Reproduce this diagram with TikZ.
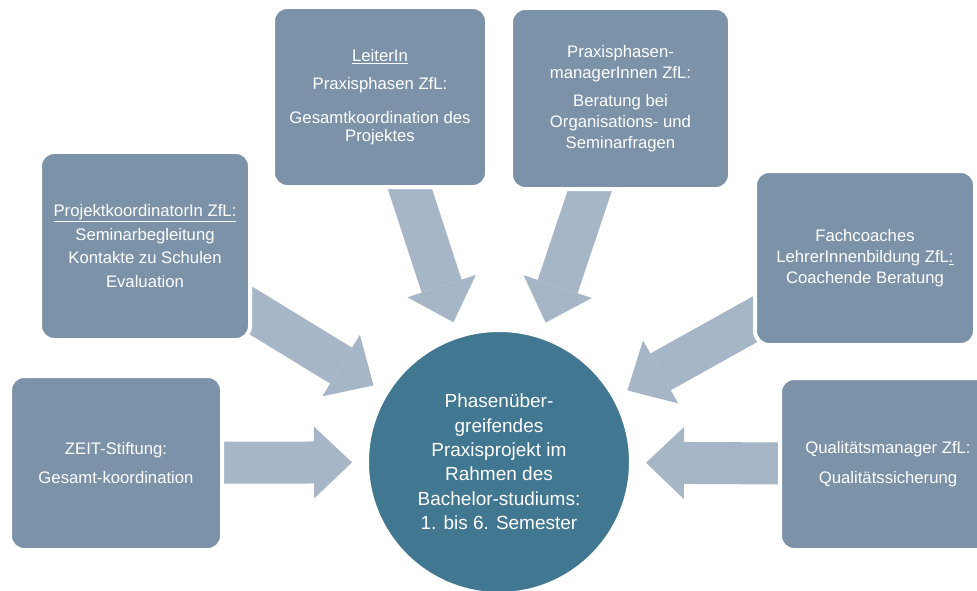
\documentclass[tikz,border=0pt]{standalone}
\usepackage{fontspec}
\setmainfont{Liberation Sans}
\usepackage{tikz}
\usetikzlibrary{arrows.meta, backgrounds}
\definecolor{boxblue}{RGB}{124,146,169}
\definecolor{arrowblue}{RGB}{166,182,199}
\definecolor{coreblue}{RGB}{66,119,145}
\tikzset{
  role/.style={rectangle, draw=white, fill=boxblue, line width=4pt,
    rounded corners=14pt, text=white, align=center, inner sep=0pt,
    outer sep=0pt, font=\fontsize{16.7}{21}\selectfont},
  core/.style={circle, draw=white, fill=coreblue, line width=2pt,
    minimum size=262pt, text=white, align=center, inner sep=0pt,
    outer sep=0pt, font=\fontsize{19}{24.4}\selectfont},
  bigarrow/.style={draw=arrowblue, line width=42pt,
    -{Triangle[length=38pt, width=72pt, line width=0pt]},
    shorten <=-20pt, shorten >=16pt}
}

\begin{document}
\begin{tikzpicture}[x=1pt, y=-1pt]
  \useasboundingbox (0,0) rectangle (977,591);
  % centre
  \node[core] (projekt) at (499,462)
    {Phasenüber-\\greifendes\\Praxisprojekt im\\Rahmen des\\Bachelor-studiums:\\1. bis 6. Semester};
  % roles around the centre
  \node[role, minimum width=210pt, minimum height=188pt,
        font=\fontsize{16.7}{23.7}\selectfont] (koord) at (145,246)
    {\underline{ProjektkoordinatorIn ZfL:}\\Seminarbegleitung\\Kontakte zu Schulen\\Evaluation};
  \node[role, minimum width=214pt, minimum height=180pt,
        font=\fontsize{16.7}{18}\selectfont] (leiter) at (380,97)
    {\underline{LeiterIn}\\[10pt]Praxisphasen ZfL:\\[16pt]Gesamtkoordination des\\Projektes};
  \node[role, minimum width=219pt, minimum height=181pt] (manager) at (620.5,98.5)
    {Praxisphasen-\\managerInnen ZfL:\\[7pt]Beratung bei\\Organisations- und\\Seminarfragen};
  \node[role, minimum width=220pt, minimum height=174pt] (coaches) at (865,258)
    {Fachcoaches\\LehrerInnenbildung ZfL\underline{:}\\Coachende Beratung};
  \node[role, minimum width=216pt, minimum height=172pt] (qualitaet) at (888,464)
    {Qualitätsmanager ZfL:\\[9pt]Qualitätssicherung};
  \node[role, minimum width=212pt, minimum height=174pt] (zeit) at (116,463)
    {ZEIT-Stiftung:\\[8pt]Gesamt-koordination};
  % block arrows behind the boxes
  \begin{scope}[on background layer]
    \fill[white] (0,0) rectangle (977,591);
    \draw[bigarrow] (zeit) -- (projekt);
    \draw[bigarrow] (koord) -- (projekt);
    \draw[bigarrow] (leiter) -- (projekt);
    \draw[bigarrow] (manager) -- (projekt);
    \draw[bigarrow] (coaches) -- (projekt);
    \draw[bigarrow] (qualitaet) -- (projekt);
  \end{scope}
\end{tikzpicture}
\end{document}
